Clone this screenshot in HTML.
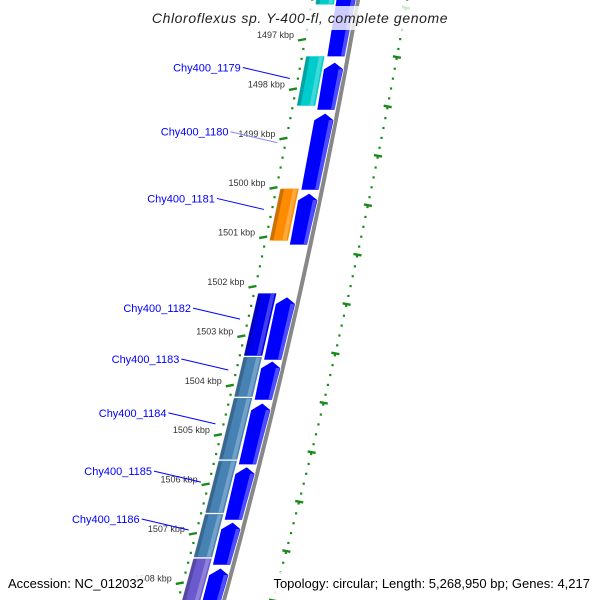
<!DOCTYPE html>
<html><head><meta charset="utf-8"><style>
html,body{margin:0;padding:0;background:#fff;width:600px;height:600px;overflow:hidden;}
svg{display:block;font-family:"Liberation Sans","DejaVu Sans",sans-serif;overflow:hidden;}
</style></head><body>
<svg id="map" width="600" height="600" viewBox="0 0 600 600" xmlns="http://www.w3.org/2000/svg">
<g id="ticks"></g>
<g id="outer"></g>
<g id="genes"></g>
<g id="labels"></g>
<rect x="140" y="6" width="320" height="24" fill="#fff" fill-opacity="0.8"/>
<text x="300" y="23" text-anchor="middle" font-size="14" font-style="italic" fill="#222" letter-spacing="0.6">Chloroflexus sp. Y-400-fl, complete genome</text>
<rect x="4" y="572" width="140" height="22" fill="#fff" fill-opacity="0.85"/>
<text x="8" y="588" font-size="13" fill="#000">Accession: NC_012032</text>
<rect x="256" y="572" width="340" height="22" fill="#fff" fill-opacity="0.85"/>
<text x="590" y="588" text-anchor="end" font-size="13" fill="#000">Topology: circular; Length: 5,268,950 bp; Genes: 4,217</text>
</svg>
<script>
const fwdStart=[1496.0,1497.47,1498.50,1500.12,1502.22,1503.52,1504.37,1505.66,1506.78,1507.71];
const fwdEnd=[1497.36,1498.44,1500.06,1501.17,1503.50,1504.31,1505.62,1506.74,1507.65,1509.2];
const revStart=[1496.0,1497.34,1500.02,1502.14,1503.43,1504.26,1505.53,1506.61,1507.51];
const revEnd=[1496.31,1498.36,1501.09,1503.42,1504.25,1505.52,1506.60,1507.50,1509.2];
const revColor=["#00cccc","#00cccc","#ff8c00","#0000ee","#4682b4","#4682b4","#4682b4","#4682b4","#6a5acd"];
const labelNames=["Chy400_1179","Chy400_1180","Chy400_1181","Chy400_1182","Chy400_1183","Chy400_1184","Chy400_1185","Chy400_1186"];
const labelPos=[1497.8,1499.1,1500.45,1502.67,1503.70,1504.79,1505.97,1506.94];
const kbpTicks=[1496,1497,1498,1499,1500,1501,1502,1503,1504,1505,1506,1507,1508,1509];
const NS="http://www.w3.org/2000/svg";
function yOf(k){return 39+(k-1497)*49.4;}
function bx(y){return 358-0.1744*y-0.0000815*y*y;}
function P(k,v){const y=yOf(k);return [bx(y)+v,y];}
function mk(tag,parent,attrs){const e=document.createElementNS(NS,tag);for(const a in attrs)e.setAttribute(a,attrs[a]);parent.appendChild(e);return e;}
const G=document.getElementById('genes'),T=document.getElementById('ticks'),O=document.getElementById('outer'),L=document.getElementById('labels');
let pts=[];for(let k=1495.8;k<=1509.2;k+=0.1){pts.push(P(k,0).join(','));}
let bb=mk('polyline',G,{points:pts.join(' '),fill:'none',stroke:'#888',"stroke-width":4});


function quad(k1,k2,v1,v2){return [P(k1,v1),P(k1,v2),P(k2,v2),P(k2,v1)].map(p=>p.join(',')).join(' ');}
for(let i=0;i<revStart.length;i++){
 const a=revStart[i],b=revEnd[i];
 const g=mk('polygon',G,{points:quad(a,b,-42,-23),fill:revColor[i],stroke:'#fff',"stroke-width":0.8});
 
 
 mk('polygon',G,{points:quad(a+0.02,b-0.02,-42,-38),fill:'#000',"fill-opacity":0.2});
 mk('polygon',G,{points:quad(a+0.02,b-0.02,-29,-25),fill:'#fff',"fill-opacity":0.25});
}
for(let i=0;i<fwdStart.length;i++){
 const a=fwdStart[i],b=fwdEnd[i];
 const h=Math.min(0.14,(b-a)/3);
 const p=[P(a,-12),P(a+h,-2),P(b,-3),P(b,-21),P(a+h,-22)].map(q=>q.join(',')).join(' ');
 const g=mk('polygon',G,{points:p,fill:'#0000ff',stroke:'#fff',"stroke-width":0.8});
 
 
 mk('polygon',G,{points:quad(a+h,b-0.02,-7,-3),fill:'#8080ff',"fill-opacity":0.6});
}
for(let k=1495.8;k<=1509.2;k+=0.2){
 const major=Math.abs(k-Math.round(k))<0.01;
 if(major)continue;
 const [x,y]=P(k,-46);
 const d=mk('rect',T,{x:x-1,y:y-1,width:2.2,height:2.2,fill:'#1a8a1a'});
 
 
}
kbpTicks.forEach(k=>{
 const [x1,y1]=P(k,-53),[x2,y2]=P(k,-45);
 const t=mk('line',T,{x1:x1,y1:y1+1.5,x2:x2,y2:y2,stroke:'#1a8a1a',"stroke-width":2.4});
 
 
 const lb=mk('text',T,{x:x1-4,y:y1-1,"text-anchor":"end","font-size":9,fill:'#333'});
 
 
 lb.textContent=k+' kbp';
});
for(let k=1495.8;k<=1509.2;k+=0.2){
 const [x,y]=P(k,49);
 const d=mk('rect',O,{x:x-1,y:y-1,width:2.2,height:2.2,fill:'#1a8a1a'});
 
 
}
kbpTicks.forEach(k=>{
 const [x1,y1]=P(k+0.35,45),[x2,y2]=P(k+0.35,53);
 const t=mk('line',O,{x1:x1,y1:y1,x2:x2,y2:y2+1.5,stroke:'#1a8a1a',"stroke-width":2.4});
 
 
});
labelNames.forEach((n,i)=>{
 const [ex,ey]=P(labelPos[i],-54);
 const ln=mk('line',L,{x1:ex-47,y1:ey-11,x2:ex,y2:ey,stroke:i==1?'#8888ff':'#0000ff',"stroke-width":1});
 
 
 const t=mk('text',L,{x:ex-49,y:ey-7,"text-anchor":"end","font-size":11,fill:'#0000ff'});
 
 
 t.textContent=n;
});
</script>
</body></html>
